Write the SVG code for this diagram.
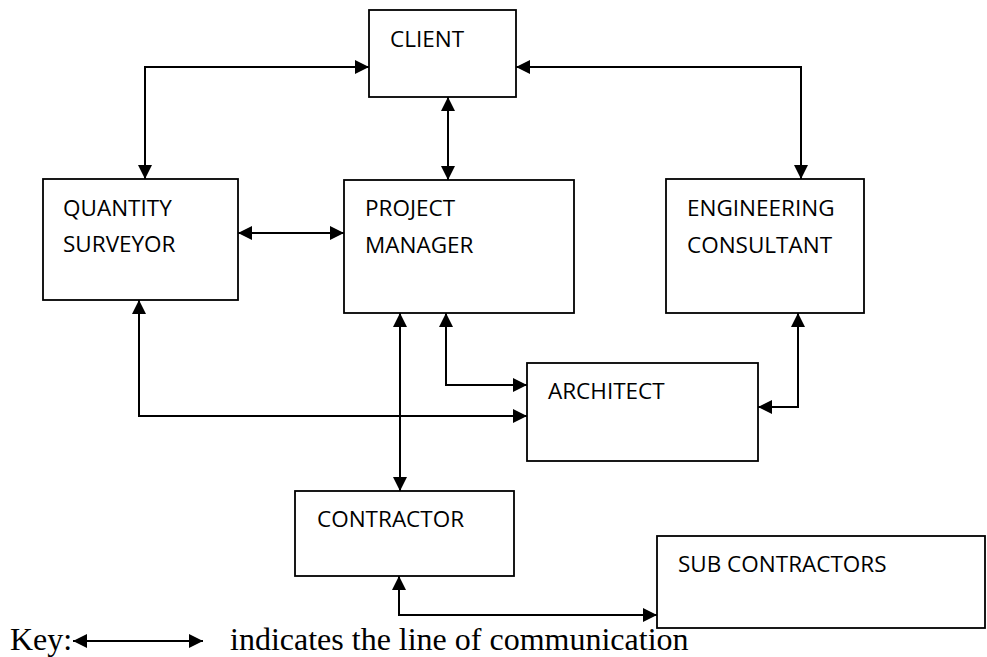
<svg xmlns="http://www.w3.org/2000/svg" width="987" height="657" viewBox="0 0 987 657">
  <style>
    .box { fill: #ffffff; stroke: #000000; stroke-width: 1.8; }
    .lbl { font-family: "Open Sans", "Noto Sans", "Liberation Sans", sans-serif; font-size: 22.5px; fill: #000000; }
    .wire { fill: none; stroke: #000000; stroke-width: 2; marker-start: url(#ah); marker-end: url(#ah); }
    .key { font-family: "Liberation Serif", "Times New Roman", serif; font-size: 32px; fill: #000000; }
  </style>
  <defs>
    <marker id="ah" viewBox="0 0 14 14" refX="14" refY="7" markerWidth="14" markerHeight="14" markerUnits="userSpaceOnUse" orient="auto-start-reverse">
      <path d="M0,0 L14,7 L0,14 z" fill="#000000"/>
    </marker>
  </defs>
  <rect width="987" height="657" fill="#ffffff"/>

  <!-- connectors -->
  <g id="connectors">
    <path class="wire" d="M369,67 H145 V179"/>
    <path class="wire" d="M516,67 H801 V179"/>
    <path class="wire" d="M448,97 V180"/>
    <path class="wire" d="M238,233 H344"/>
    <path class="wire" d="M139,300 V416 H527"/>
    <path class="wire" d="M446,313 V385 H527"/>
    <path class="wire" d="M400,313 V491"/>
    <path class="wire" d="M798,313 V407 H758"/>
    <path class="wire" d="M399,576 V615 H657"/>
  </g>

  <!-- nodes -->
  <g id="client">
    <rect class="box" x="369" y="10" width="147" height="87"/>
    <text class="lbl" x="390" y="47">CLIENT</text>
  </g>
  <g id="quantity-surveyor">
    <rect class="box" x="43" y="179" width="195" height="121"/>
    <text class="lbl" x="63" y="216">QUANTITY</text>
    <text class="lbl" x="63" y="252">SURVEYOR</text>
  </g>
  <g id="project-manager">
    <rect class="box" x="344" y="180" width="230" height="133"/>
    <text class="lbl" x="365" y="216">PROJECT</text>
    <text class="lbl" x="365" y="253">MANAGER</text>
  </g>
  <g id="engineering-consultant">
    <rect class="box" x="666" y="179" width="198" height="134"/>
    <text class="lbl" x="687" y="216">ENGINEERING</text>
    <text class="lbl" x="687" y="253">CONSULTANT</text>
  </g>
  <g id="architect">
    <rect class="box" x="527" y="363" width="231" height="98"/>
    <text class="lbl" x="548" y="399">ARCHITECT</text>
  </g>
  <g id="contractor">
    <rect class="box" x="295" y="491" width="219" height="85"/>
    <text class="lbl" x="317" y="527">CONTRACTOR</text>
  </g>
  <g id="sub-contractors">
    <rect class="box" x="657" y="536" width="328" height="92"/>
    <text class="lbl" x="678" y="572">SUB CONTRACTORS</text>
  </g>

  <!-- key -->
  <g id="key">
    <text class="key" x="10" y="650">Key:</text>
    <path class="wire" d="M73,641 H203"/>
    <text class="key" x="230" y="650">indicates the line of communication</text>
  </g>
</svg>
